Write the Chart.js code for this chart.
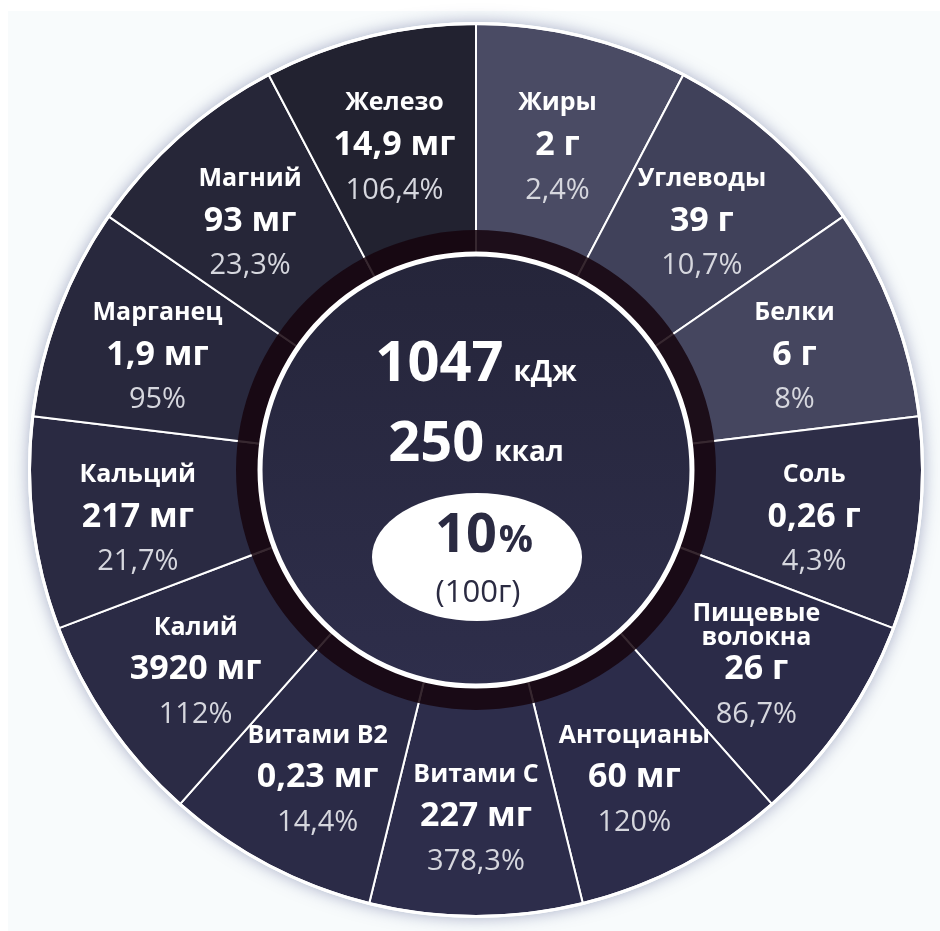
<!DOCTYPE html>
<html lang="ru">
<head>
<meta charset="utf-8">
<title>Пищевая ценность на 100 г</title>
<script src="https://cdn.jsdelivr.net/npm/chart.js@4.4.1/dist/chart.umd.min.js"></script>
<style>
  html, body { margin: 0; padding: 0; background: #ffffff; }
  #wrap { width: 940px; height: 931px; position: relative; }
  #wrap canvas { display: block; }
  #overlay { position: absolute; left: 0; top: 0; pointer-events: none; }
</style>
</head>
<body>
<div id="wrap">
  <canvas id="chart" width="940" height="931"></canvas>
  <canvas id="overlay" width="940" height="931"></canvas>
</div>
<script>
// Nutrients, clockwise from 12 o'clock
const nutrientNames = [
  'Жиры', 'Углеводы', 'Белки', 'Соль', ['Пищевые', 'волокна'], 'Антоцианы',
  'Витами C', 'Витами B2', 'Калий', 'Кальций', 'Марганец', 'Магний', 'Железо'
];
// Amount per 100 g
const amountValues = [2, 39, 6, 0.26, 26, 60, 227, 0.23, 3920, 217, 1.9, 93, 14.9];
const amountUnits  = ['г', 'г', 'г', 'г', 'г', 'мг', 'мг', 'мг', 'мг', 'мг', 'мг', 'мг', 'мг'];
// Share of the daily norm, %
const dailyPercent = [2.4, 10.7, 8, 4.3, 86.7, 120, 378.3, 14.4, 112, 21.7, 95, 23.3, 106.4];
// Every nutrient gets the same slot on the wheel
const slotShare = [1, 1, 1, 1, 1, 1, 1, 1, 1, 1, 1, 1, 1];

// Energy summary in the hub
const energyKJ = 1047;
const energyKcal = 250;
const energyDailyPercent = 10;
const portionLabel = '(100г)';

const sliceColors = [
  '#4a4b64', '#40415a', '#45465f', '#2d2d47', '#2b2b48', '#2c2c4a', '#2d2d4b',
  '#2b2b47', '#2b2b45', '#2a2a42', '#28283d', '#262638', '#222230'
];

const FONT = '"Open Sans", "Noto Sans", "DejaVu Sans", sans-serif';
const fmt = v => String(v).replace('.', ',');

// Panel behind the wheel plus the soft glow around its rim
const backdrop = {
  id: 'backdrop',
  beforeDraw(chart) {
    const ctx = chart.ctx;
    ctx.save();
    ctx.fillStyle = '#ffffff';
    ctx.fillRect(0, 0, chart.width, chart.height);
    ctx.fillStyle = '#f8fbfc';
    ctx.fillRect(8, 11, chart.width - 8, chart.height - 11);
    const arc = chart.getDatasetMeta(0).data[0];
    if (arc) {
      const { x, y, outerRadius } = arc.getProps(['x', 'y', 'outerRadius'], true);
      ctx.shadowColor = 'rgba(90, 100, 150, 0.5)';
      ctx.shadowBlur = 16;
      ctx.fillStyle = '#ffffff';
      ctx.beginPath();
      ctx.arc(x, y, outerRadius + 2, 0, Math.PI * 2);
      ctx.fill();
    }
    ctx.restore();
  },
  afterDatasetsDraw(chart) {
    const ctx = chart.ctx;
    const arc = chart.getDatasetMeta(0).data[0];
    if (!arc) return;
    const { x, y, outerRadius } = arc.getProps(['x', 'y', 'outerRadius'], true);
    ctx.save();
    ctx.strokeStyle = '#ffffff';
    ctx.lineWidth = 3;
    ctx.beginPath();
    ctx.arc(x, y, outerRadius + 0.5, 0, Math.PI * 2);
    ctx.stroke();
    ctx.restore();
  }
};

// Dark band, hub and all texts, painted on the layer above the wheel
const hubAndLabels = {
  id: 'hubAndLabels',
  afterDraw(chart) {
    const layer = document.getElementById('overlay');
    const ctx = layer.getContext('2d');
    ctx.clearRect(0, 0, layer.width, layer.height);
    const arcs = chart.getDatasetMeta(0).data;
    if (!arcs.length) return;
    const { x: cx, y: cy, innerRadius } =
      arcs[0].getProps(['x', 'y', 'innerRadius'], true);
    ctx.save();

    // dark band just outside the hub (separators show faintly through it)
    const band = 23;
    ctx.fillStyle = 'rgba(22, 5, 14, 0.86)';
    ctx.beginPath();
    ctx.arc(cx, cy, innerRadius + band, 0, Math.PI * 2);
    ctx.arc(cx, cy, innerRadius, 0, Math.PI * 2, true);
    ctx.fill();

    // hub
    const g = ctx.createLinearGradient(0, cy - innerRadius, 0, cy + innerRadius);
    g.addColorStop(0, '#25253a');
    g.addColorStop(1, '#2e2e4b');
    ctx.fillStyle = g;
    ctx.beginPath();
    ctx.arc(cx, cy, innerRadius - 2, 0, Math.PI * 2);
    ctx.fill();
    ctx.strokeStyle = '#ffffff';
    ctx.lineWidth = 5;
    ctx.beginPath();
    ctx.arc(cx, cy, innerRadius - 1, 0, Math.PI * 2);
    ctx.stroke();

    // hub texts
    const pair = (big, bigFont, small, smallFont, baseY, color) => {
      ctx.font = bigFont;
      const w1 = ctx.measureText(big).width;
      ctx.font = smallFont;
      const w2 = ctx.measureText(small).width;
      const gap = 10;
      const left = cx - (w1 + gap + w2) / 2;
      ctx.fillStyle = color;
      ctx.textAlign = 'left';
      ctx.textBaseline = 'alphabetic';
      ctx.font = bigFont;
      ctx.fillText(big, left, baseY);
      ctx.font = smallFont;
      ctx.fillText(small, left + w1 + gap, baseY);
    };
    pair(String(energyKJ), `700 56px ${FONT}`, 'кДж', `700 28px ${FONT}`, cy - 89, '#ffffff');
    pair(String(energyKcal), `700 56px ${FONT}`, 'ккал', `700 28px ${FONT}`, cy - 9, '#ffffff');

    ctx.fillStyle = '#ffffff';
    ctx.beginPath();
    ctx.ellipse(cx + 1, cy + 87, 105, 64, 0, 0, Math.PI * 2);
    ctx.fill();

    ctx.font = `700 54px ${FONT}`;
    const wNum = ctx.measureText(String(energyDailyPercent)).width;
    ctx.font = `700 38px ${FONT}`;
    const wPct = ctx.measureText('%').width;
    const l = cx + 7 - (wNum + wPct) / 2;
    ctx.fillStyle = '#2b2b42';
    ctx.textAlign = 'left';
    ctx.font = `700 54px ${FONT}`;
    ctx.fillText(String(energyDailyPercent), l, cy + 82);
    ctx.font = `700 38px ${FONT}`;
    ctx.fillText('%', l + wNum + 2, cy + 82);
    ctx.textAlign = 'center';
    ctx.font = `400 31px ${FONT}`;
    ctx.fillText(portionLabel, cx + 2, cy + 132);

    // slice labels: name, amount, daily share
    ctx.textAlign = 'center';
    ctx.textBaseline = 'middle';
    arcs.forEach((arc, i) => {
      const p = arc.getProps(['startAngle', 'endAngle', 'innerRadius', 'outerRadius'], true);
      const mid = (p.startAngle + p.endAngle) / 2;
      const r = p.innerRadius + 0.54 * (p.outerRadius - p.innerRadius);
      const px = cx + r * Math.cos(mid);
      const py = cy + r * Math.sin(mid) + 6;
      const name = nutrientNames[i];
      const lines = Array.isArray(name) ? name : [name];
      ctx.fillStyle = '#ffffff';
      ctx.font = `700 25px ${FONT}`;
      if (lines.length === 1) {
        ctx.fillText(lines[0], px, py - 42);
      } else {
        ctx.fillText(lines[0], px, py - 56);
        ctx.fillText(lines[1], px, py - 32);
      }
      ctx.font = `700 34px ${FONT}`;
      ctx.fillText(`${fmt(amountValues[i])} ${amountUnits[i]}`, px, py);
      ctx.fillStyle = '#d6d7de';
      ctx.font = `400 29px ${FONT}`;
      ctx.fillText(`${fmt(dailyPercent[i])}%`, px, py + 45);
    });

    ctx.restore();
  }
};

new Chart(document.getElementById('chart'), {
  type: 'doughnut',
  data: {
    labels: nutrientNames.map(n => Array.isArray(n) ? n.join(' ') : n),
    datasets: [{
      data: slotShare,
      backgroundColor: sliceColors,
      borderColor: '#ffffff',
      borderWidth: 2,
      hoverOffset: 0
    }]
  },
  options: {
    responsive: false,
    animation: false,
    events: [],
    radius: 446,
    cutout: '48.65%',
    layout: { padding: { left: 12, top: 9, right: 0, bottom: 0 } },
    plugins: {
      legend: { display: false },
      tooltip: { enabled: false }
    }
  },
  plugins: [backdrop, hubAndLabels]
});
</script>
</body>
</html>
